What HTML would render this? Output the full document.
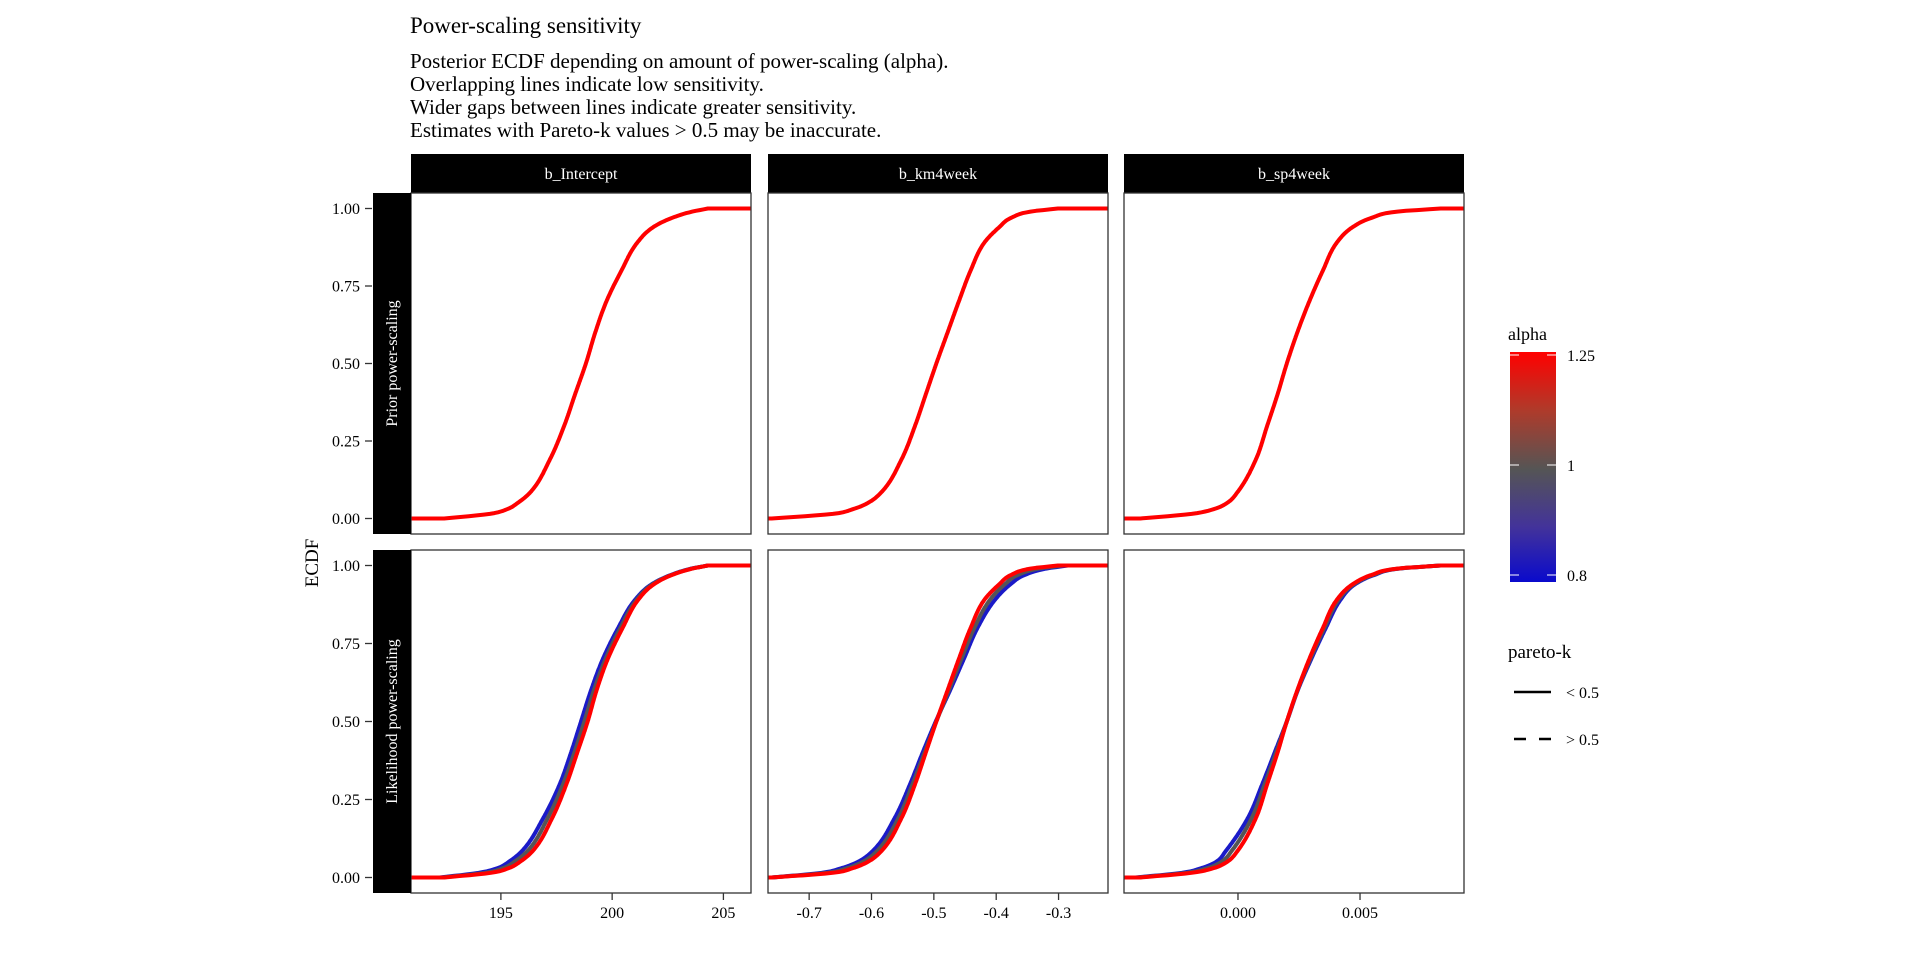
<!DOCTYPE html>
<html><head><meta charset="utf-8"><style>
body{margin:0;background:#fff;}
svg{display:block;font-family:"Liberation Serif",serif;}
</style></head><body>
<svg id="chart" width="1920" height="960" viewBox="0 0 1920 960">
<defs><linearGradient id="alphaGrad" x1="0" y1="1" x2="0" y2="0">
<stop offset="0" stop-color="#0a0acc"/><stop offset="0.24" stop-color="#43339a"/><stop offset="0.49" stop-color="#555555"/><stop offset="0.75" stop-color="#b03a2a"/><stop offset="1" stop-color="#ff0000"/></linearGradient></defs>
<text x="410" y="33" font-size="23" fill="#000">Power-scaling sensitivity</text>
<g font-size="21" fill="#000">
<text x="410" y="68">Posterior ECDF depending on amount of power-scaling (alpha).</text>
<text x="410" y="91">Overlapping lines indicate low sensitivity.</text>
<text x="410" y="114">Wider gaps between lines indicate greater sensitivity.</text>
<text x="410" y="137">Estimates with Pareto-k values &gt; 0.5 may be inaccurate.</text>
</g>
<text transform="translate(318,563) rotate(-90)" text-anchor="middle" font-size="19">ECDF</text>
<g id="panels"></g>
<g>
<text x="1508" y="340" font-size="18">alpha</text>
<rect x="1510" y="352" width="46" height="230" fill="url(#alphaGrad)"/>
<g stroke="#fff" stroke-width="1">
<line x1="1510" y1="355" x2="1519" y2="355"/><line x1="1547" y1="355" x2="1556" y2="355"/>
<line x1="1510" y1="465" x2="1519" y2="465"/><line x1="1547" y1="465" x2="1556" y2="465"/>
<line x1="1510" y1="575" x2="1519" y2="575"/><line x1="1547" y1="575" x2="1556" y2="575"/>
</g>
<g font-size="16"><text x="1567" y="361">1.25</text><text x="1567" y="471">1</text><text x="1567" y="581">0.8</text></g>
</g>
<g>
<text x="1508" y="658" font-size="19">pareto-k</text>
<line x1="1514" y1="692" x2="1551" y2="692" stroke="#000" stroke-width="2.5"/>
<text x="1566" y="698" font-size="16">&lt; 0.5</text>
<line x1="1514" y1="739" x2="1551" y2="739" stroke="#000" stroke-width="2.5" stroke-dasharray="12,13"/>
<text x="1566" y="745" font-size="16">&gt; 0.5</text>
</g>
</svg>
<script>
const probs = [0,0.015,0.03,0.05,0.085,0.19,0.3,0.4,0.5,0.6,0.7,0.8,0.89,0.94,0.97,0.99,1];
const colNames = ["b_Intercept","b_km4week","b_sp4week"];
const rowNames = ["Prior power-scaling","Likelihood power-scaling"];
const xTicks1 = [195,200,205];
const xTicks2 = [-0.7,-0.6,-0.5,-0.4,-0.3];
const xTicks3 = [0.000,0.005];
const xTickLabels3 = ["0.000","0.005"];
const yTicks = [0,0.25,0.5,0.75,1];
const yTickLabels = ["0.00","0.25","0.50","0.75","1.00"];
// prior row (all alphas overlap)
const prior1 = [192.45,194.5,195.28,195.75,196.33,197.2,197.85,198.33,198.82,199.24,199.74,200.42,201.13,201.85,202.7,203.6,204.3];
const prior2 = [-0.76,-0.662,-0.630,-0.606,-0.584,-0.552,-0.530,-0.513,-0.496,-0.478,-0.460,-0.441,-0.419,-0.395,-0.376,-0.345,-0.301];
const prior3 = [-0.0040,-0.0019,-0.0010,-0.00045,-0.00002,0.00073,0.00120,0.00162,0.00200,0.00243,0.00292,0.00348,0.00405,0.0047,0.00548,0.00653,0.0083];
// likelihood row, alpha 0.8 / 1.0 / 1.25
const lik1_08 = [192.25,194.0,194.85,195.35,195.95,196.9,197.65,198.15,198.6,199.05,199.58,200.27,201.03,201.78,202.65,203.55,204.3];
const lik1_10 = [192.35,194.3,195.1,195.6,196.2,197.1,197.8,198.3,198.75,199.18,199.7,200.37,201.1,201.82,202.68,203.58,204.3];
const lik1_125 = [192.45,194.55,195.35,195.85,196.43,197.3,197.95,198.43,198.9,199.3,199.8,200.47,201.17,201.88,202.7,203.6,204.3];
const lik2_08 = [-0.76,-0.680,-0.648,-0.622,-0.598,-0.563,-0.538,-0.518,-0.497,-0.474,-0.452,-0.430,-0.402,-0.377,-0.354,-0.320,-0.285];
const lik2_10 = [-0.76,-0.671,-0.639,-0.614,-0.591,-0.557,-0.534,-0.515,-0.496,-0.476,-0.456,-0.435,-0.410,-0.386,-0.365,-0.332,-0.293];
const lik2_125 = [-0.76,-0.662,-0.630,-0.606,-0.584,-0.552,-0.530,-0.513,-0.496,-0.478,-0.460,-0.441,-0.419,-0.395,-0.376,-0.345,-0.301];
const lik3_08 = [-0.0042,-0.0023,-0.0015,-0.0009,-0.0005,0.0004,0.0010,0.0015,0.0020,0.00245,0.0030,0.0036,0.0042,0.0048,0.0056,0.0066,0.0083];
const lik3_10 = [-0.0041,-0.0021,-0.00125,-0.00068,-0.00026,0.00056,0.0011,0.00156,0.0020,0.00244,0.00296,0.00354,0.00412,0.00475,0.00554,0.00657,0.0083];
const lik3_125 = [-0.0040,-0.0019,-0.0010,-0.00045,-0.00002,0.00073,0.00120,0.00162,0.00200,0.00243,0.00292,0.00348,0.00405,0.0047,0.00548,0.00653,0.0083];

const NS="http://www.w3.org/2000/svg";
const root=document.getElementById('panels');
function mk(tag,attrs,parent){const e=document.createElementNS(NS,tag);for(const k in attrs)e.setAttribute(k,attrs[k]);(parent||root).appendChild(e);return e;}
const cols=[{x0:411,x1:751,d0:190.96,d1:206.24,ticks:xTicks1,labels:xTicks1.map(String)},
 {x0:768,x1:1108,d0:-0.766,d1:-0.2207,ticks:xTicks2,labels:xTicks2.map(String)},
 {x0:1124,x1:1464,d0:-0.00467,d1:0.00926,ticks:xTicks3,labels:xTickLabels3}];
const rows=[{y0:193,y1:534},{y0:550,y1:893}];
const series=[[[prior1,"#ff0000"]],[[lik1_08,"#1a1ac8"],[lik1_10,"#555555"],[lik1_125,"#ff0000"]]];
const series2=[[[prior2,"#ff0000"]],[[lik2_08,"#1a1ac8"],[lik2_10,"#555555"],[lik2_125,"#ff0000"]]];
const series3=[[[prior3,"#ff0000"]],[[lik3_08,"#1a1ac8"],[lik3_10,"#555555"],[lik3_125,"#ff0000"]]];
const allSeries=[series,series2,series3];
// monotone cubic (Fritsch-Carlson) of value as a function of probability
function monotone(xs,ys){const n=xs.length,d=[],m=[];
 for(let i=0;i<n-1;i++)d.push((ys[i+1]-ys[i])/(xs[i+1]-xs[i]));
 m[0]=d[0];m[n-1]=d[n-2];
 for(let i=1;i<n-1;i++){m[i]=(d[i-1]*d[i]<=0)?0:(d[i-1]+d[i])/2;}
 for(let i=0;i<n-1;i++){if(d[i]===0){m[i]=0;m[i+1]=0;continue;}const a=m[i]/d[i],b=m[i+1]/d[i],s=a*a+b*b;if(s>9){const t=3/Math.sqrt(s);m[i]=t*a*d[i];m[i+1]=t*b*d[i];}}
 return t=>{let i=0;while(i<n-2&&t>xs[i+1])i++;const h=xs[i+1]-xs[i],u=(t-xs[i])/h,u2=u*u,u3=u2*u;
  return (2*u3-3*u2+1)*ys[i]+(u3-2*u2+u)*h*m[i]+(-2*u3+3*u2)*ys[i+1]+(u3-u2)*h*m[i+1];};}
cols.forEach((c,ci)=>{
 const sx=v=>c.x0+(v-c.d0)/(c.d1-c.d0)*(c.x1-c.x0);
 const sr=mk('rect',{x:c.x0,y:154,width:c.x1-c.x0,height:39,fill:'#000'});
 
 
 const st=mk('text',{x:(c.x0+c.x1)/2,y:179,'text-anchor':'middle','font-size':16,fill:'#fff'});st.textContent=colNames[ci];
 
 
 rows.forEach((r,ri)=>{
  const sy=p=>r.y1-15.5-p*(r.y1-r.y0-31);
  const g=mk('g',{});
  
  
  const cp='cp'+ri+ci;
  const clip=mk('clipPath',{id:cp},g);mk('rect',{x:c.x0,y:r.y0,width:c.x1-c.x0,height:r.y1-r.y0},clip);
  const lg=mk('g',{'clip-path':'url(#'+cp+')'},g);
  allSeries[ci][ri].forEach(([vals,col])=>{
   const f=monotone(probs,vals);
   let d="M"+(c.x0-5)+","+sy(0).toFixed(1);
   for(let k=0;k<=400;k++){const p=k/400;d+="L"+sx(f(p)).toFixed(1)+","+sy(p).toFixed(1);}
   d+="L"+(c.x1+5)+","+sy(1).toFixed(1);
   const p=mk('path',{d:d,fill:'none',stroke:col,'stroke-width':4,'stroke-linejoin':'round'},lg);
   
   
  });
  mk('rect',{x:c.x0,y:r.y0,width:c.x1-c.x0,height:r.y1-r.y0,fill:'none',stroke:'#333','stroke-width':1.3},g);
  if(ri===1){c.ticks.forEach((t,i)=>{const x=sx(t);mk('line',{x1:x,x2:x,y1:r.y1,y2:r.y1+7,stroke:'#333','stroke-width':1.3});
   const tl=mk('text',{x:x,y:r.y1+25,'text-anchor':'middle','font-size':16});tl.textContent=c.labels[i];
   
   });}
  if(ci===0){
   const rs=mk('rect',{x:373,y:r.y0,width:38,height:r.y1-r.y0,fill:'#000'});
   
   
   const rt=mk('text',{transform:'translate(397,'+((r.y0+r.y1)/2)+') rotate(-90)','text-anchor':'middle','font-size':16,fill:'#fff'});rt.textContent=rowNames[ri];
   
   
   yTicks.forEach((t,i)=>{const y=sy(t);mk('line',{x1:365,x2:372,y1:y,y2:y,stroke:'#333','stroke-width':1.3});
    const yl=mk('text',{x:360,y:y+5.5,'text-anchor':'end','font-size':16});yl.textContent=yTickLabels[i];
    
    });
  }
 });
});
</script>
</body></html>
